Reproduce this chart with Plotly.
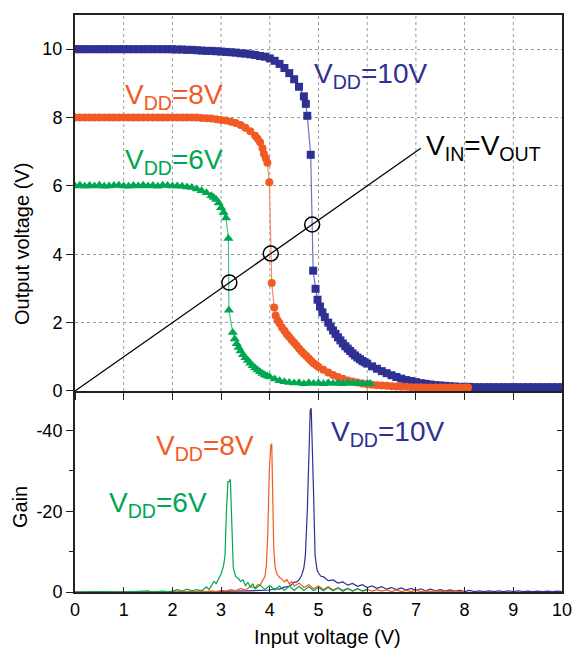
import plotly.graph_objects as go

# ---------------- data: transfer curves ----------------
x_vdd10 = [0.0,0.1,0.2,0.3,0.4,0.5,0.6,0.7,0.8,0.9,1.0,1.1,1.2,1.3,1.4,1.5,1.6,1.7,1.8,1.9,2.0,
           2.1,2.2,2.3,2.4,2.5,2.6,2.7,2.8,2.9,3.0,3.1,3.2,3.3,3.4,3.5,3.6,3.7,3.8,3.9,4.0,
           4.1,4.2,4.3,4.4,4.5,4.6,4.7,4.74,4.77,4.84,4.89,4.94,4.98,5.03,5.08,5.13,5.2,5.25,
           5.3,5.35,5.4,5.45,5.5,5.55,5.6,5.65,5.7,5.75,5.8,5.85,5.9,5.95,6.0,6.1,6.2,6.3,6.4,
           6.5,6.6,6.7,6.8,6.9,7.0,7.1,7.2,7.3,7.4,7.5,7.6,7.7,7.8,7.9,8.0,8.1,8.2,8.3,8.4,8.5,
           8.6,8.7,8.8,8.9,9.0,9.1,9.2,9.3,9.4,9.5,9.6,9.7,9.8,9.9,10.0]
y_vdd10 = [10.0,10.0,10.0,10.0,10.0,10.0,10.0,10.0,10.0,10.0,10.0,10.0,10.0,10.0,10.0,10.0,10.0,10.0,10.0,10.0,10.0,
           9.99,9.99,9.98,9.98,9.97,9.96,9.95,9.95,9.94,9.93,9.92,9.91,9.9,9.88,9.87,9.85,9.83,9.8,9.78,9.73,
           9.66,9.57,9.45,9.3,9.12,8.9,8.62,8.4,8.05,6.91,3.52,2.99,2.67,2.47,2.3,2.16,2.0,1.88,
           1.77,1.67,1.57,1.48,1.39,1.31,1.24,1.17,1.1,1.04,0.98,0.93,0.88,0.84,0.8,0.72,0.65,0.58,0.52,
           0.46,0.41,0.36,0.32,0.29,0.26,0.23,0.21,0.19,0.17,0.16,0.15,0.14,0.13,0.12,0.12,0.12,0.11,0.11,0.11,0.11,
           0.11,0.11,0.11,0.11,0.11,0.11,0.11,0.11,0.11,0.11,0.11,0.11,0.11,0.11,0.11]

x_vdd8 = [0.0,0.1,0.2,0.3,0.4,0.5,0.6,0.7,0.8,0.9,1.0,1.1,1.2,1.3,1.4,1.5,1.6,1.7,1.8,1.9,2.0,
          2.1,2.2,2.3,2.4,2.5,2.6,2.7,2.8,2.9,3.0,3.1,3.2,3.3,3.4,3.5,3.6,3.7,3.75,3.8,3.85,3.88,
          3.92,3.95,3.99,4.04,4.09,4.12,4.16,4.2,4.25,4.3,4.35,4.4,4.45,4.5,4.55,4.6,4.65,4.7,4.75,
          4.8,4.85,4.9,4.95,5.0,5.1,5.2,5.3,5.4,5.5,5.6,5.7,5.8,5.9,6.0,6.1,6.2,6.3,6.4,6.5,6.6,
          6.7,6.8,6.9,7.0,7.1,7.2,7.3,7.4,7.5,7.6,7.7,7.8,7.9,8.0,8.07]
y_vdd8 = [8.0,8.0,8.0,8.0,8.0,8.0,8.0,8.0,8.0,8.0,8.0,8.0,8.0,8.0,8.0,8.0,8.0,8.0,8.0,8.0,8.0,
          8.0,8.0,8.0,8.0,8.0,7.99,7.98,7.97,7.95,7.93,7.91,7.88,7.84,7.78,7.7,7.6,7.47,7.38,7.28,7.1,6.93,
          6.8,6.68,6.11,3.16,2.44,2.21,2.07,1.98,1.86,1.76,1.66,1.58,1.49,1.41,1.33,1.24,1.16,1.09,1.02,
          0.95,0.88,0.81,0.76,0.7,0.62,0.54,0.47,0.41,0.36,0.31,0.28,0.25,0.22,0.2,0.18,0.17,0.16,0.15,0.14,0.13,
          0.12,0.12,0.11,0.11,0.11,0.1,0.1,0.1,0.1,0.1,0.1,0.1,0.1,0.1,0.1]

x_vdd6 = [0.0,0.1,0.2,0.3,0.4,0.5,0.6,0.7,0.8,0.9,1.0,1.1,1.2,1.3,1.4,1.5,1.6,1.7,1.8,1.9,2.0,
          2.1,2.2,2.3,2.4,2.5,2.6,2.7,2.8,2.85,2.9,2.95,3.0,3.05,3.1,3.15,3.16,3.24,3.28,3.32,3.36,
          3.4,3.45,3.5,3.55,3.6,3.65,3.7,3.75,3.8,3.85,3.9,3.95,4.0,4.1,4.2,4.3,4.4,4.5,4.6,4.7,
          4.8,4.9,5.0,5.1,5.2,5.3,5.4,5.5,5.6,5.7,5.8,5.9,6.0,6.06]
y_vdd6 = [6.0,6.02,5.99,6.01,6.0,6.02,5.99,6.0,6.01,6.02,6.0,5.99,6.01,6.0,6.02,6.0,6.01,5.99,6.02,6.01,6.0,
          6.0,5.99,5.97,5.95,5.91,5.86,5.8,5.71,5.66,5.6,5.5,5.36,5.22,5.06,4.46,2.36,1.71,1.52,1.38,1.27,
          1.17,1.06,0.97,0.89,0.81,0.74,0.67,0.61,0.56,0.51,0.47,0.44,0.41,0.35,0.3,0.27,0.25,0.23,0.24,0.21,
          0.24,0.22,0.23,0.21,0.24,0.22,0.23,0.21,0.24,0.22,0.23,0.21,0.22,0.22]

# V_IN = V_OUT line and switching points
x_diag = [0.0, 7.1]
y_diag = [0.0, 7.1]
x_switch = [3.17, 4.02, 4.87]
y_switch = [3.17, 4.02, 4.87]

# ---------------- data: gain curves ----------------
gx_vdd6 = [0.0,0.5,1.0,1.4,1.5,1.6,1.7,1.8,1.9,2.0,2.1,2.2,2.3,2.4,2.5,2.6,2.7,2.75,2.8,2.85,2.9,2.95,
           3.0,3.05,3.08,3.11,3.14,3.17,3.19,3.22,3.25,3.3,3.35,3.4,3.45,3.5,3.55,3.6,3.65,3.7,3.8,3.9,
           4.0,4.1,4.2,4.3,4.4,4.5,4.6,4.7,4.8,4.9,5.0,5.1,5.2,5.3,5.4,5.5,5.6,5.7,5.8,5.9,6.0]
g_vdd6 = [0.0,-0.1,0.0,-0.1,-0.3,0.0,-0.1,-0.2,-0.1,-0.2,-0.6,-0.2,-0.7,-0.3,-0.6,-0.3,-1.3,-0.6,-1.5,-2.6,-2.1,-3.2,
          -4.5,-6.5,-9.0,-20.0,-27.3,-27.4,-27.9,-17.0,-6.0,-3.8,-3.4,-2.6,-3.0,-1.6,-2.4,-1.2,-2.0,-0.8,-1.7,-0.6,
          -1.6,-0.5,-1.5,-0.4,-1.5,-0.4,-1.4,-0.4,-1.3,-0.3,-1.2,-0.3,-1.1,-0.3,-1.0,-0.2,-0.9,-0.2,-0.8,-0.2,-0.5]

gx_vdd8 = [0.0,0.5,1.0,1.5,2.0,2.5,2.6,2.7,2.8,2.9,3.0,3.1,3.2,3.3,3.4,3.5,3.6,3.7,3.75,3.8,3.85,3.9,
           3.93,3.96,3.99,4.02,4.04,4.06,4.08,4.11,4.15,4.2,4.25,4.3,4.35,4.4,4.45,4.5,4.6,4.7,4.8,4.9,
           5.0,5.1,5.2,5.3,5.4,5.5,5.6,5.7,5.8,5.9,6.0,6.1,6.2,6.3,6.4,6.5,6.6,6.7,6.8,6.9,7.0,7.1,
           7.2,7.3,7.4,7.5,7.6,7.7,7.8,7.9,8.0]
g_vdd8 = [0.0,-0.1,0.0,-0.1,-0.1,-0.1,-0.2,-0.1,-0.3,-0.1,-0.4,-0.2,-0.6,-0.3,-0.9,-0.5,-1.4,-1.0,-1.8,-1.7,-2.6,-3.8,
          -6.5,-15.0,-30.0,-36.3,-36.7,-26.0,-11.0,-6.0,-4.4,-3.6,-3.2,-2.5,-3.1,-2.0,-2.6,-1.5,-2.2,-1.1,-1.8,-0.8,
          -1.5,-0.6,-1.3,-0.5,-1.1,-0.4,-0.9,-0.3,-0.8,-0.3,-0.7,-0.2,-0.6,-0.2,-0.5,-0.1,-0.5,-0.1,-0.4,-0.1,-0.4,-0.1,
          -0.3,-0.1,-0.3,-0.1,-0.2,-0.1,-0.2,-0.1,-0.1]

gx_vdd10 = [0.0,0.5,1.0,1.5,2.0,2.5,3.0,3.2,3.4,3.6,3.8,4.0,4.1,4.2,4.3,4.4,4.5,4.55,4.6,4.65,4.7,4.73,
            4.77,4.8,4.83,4.85,4.87,4.9,4.93,4.97,5.0,5.05,5.1,5.2,5.3,5.4,5.5,5.6,5.7,5.8,5.9,6.0,6.1,
            6.2,6.3,6.4,6.5,6.6,6.7,6.8,6.9,7.0,7.1,7.2,7.3,7.4,7.5,7.6,7.7,7.8,7.9,8.0,8.1,8.2,8.3,
            8.4,8.5,8.6,8.7,8.8,8.9,9.0,9.1,9.2,9.3,9.4,9.5,9.6,9.7,9.8,9.9,10.0]
g_vdd10 = [0.0,0.0,-0.1,0.0,-0.1,-0.1,-0.1,-0.2,-0.2,-0.3,-0.4,-0.5,-0.8,-0.7,-1.2,-1.4,-2.4,-2.5,-3.0,-4.0,-6.0,-9.0,
           -20.0,-32.0,-45.0,-45.5,-38.0,-24.0,-9.0,-5.5,-4.7,-3.9,-3.8,-2.8,-3.0,-2.2,-2.5,-1.7,-2.1,-1.4,-1.8,-1.1,-1.5,
           -0.9,-1.3,-0.7,-1.1,-0.6,-1.0,-0.5,-0.9,-0.4,-0.8,-0.3,-0.7,-0.3,-0.6,-0.2,-0.5,-0.2,-0.4,-0.1,-0.4,-0.1,-0.3,
           -0.1,-0.3,-0.1,-0.3,-0.1,-0.3,-0.1,-0.3,-0.1,-0.2,-0.1,-0.2,-0.1,-0.2,-0.1,-0.2,-0.1]

x_ticks = [0, 1, 2, 3, 4, 5, 6, 7, 8, 9, 10]
x_ticktext = ["0", "1", "2", "3", "4", "5", "6", "7", "8", "9", "10"]
vout_ticks = [0, 2, 4, 6, 8, 10]
gain_ticks = [0, -20, -40]
gain_ticktext = ["0", "-20", "-40"]
gain_minor = [-30, -10]
gain_right_ticks = [-40, -30, -20, -10]

BLUE = "#2e3192"
ORANGE = "#f15a24"
GREEN = "#00a651"
FONT = "Liberation Sans, Arial, Helvetica, sans-serif"

fig = go.Figure()

# transfer curves (top panel)
fig.add_trace(go.Scatter(x=x_vdd10, y=y_vdd10, mode="lines+markers",
                         line=dict(color="#6e72b8", width=1.2),
                         marker=dict(symbol="square", size=8, color=BLUE, line=dict(width=0)),
                         xaxis="x", yaxis="y"))
fig.add_trace(go.Scatter(x=x_vdd8, y=y_vdd8, mode="lines+markers",
                         line=dict(color="#f5896a", width=1.2),
                         marker=dict(symbol="circle", size=8, color=ORANGE, line=dict(width=0)),
                         xaxis="x", yaxis="y"))
fig.add_trace(go.Scatter(x=x_vdd6, y=y_vdd6, mode="lines+markers",
                         line=dict(color="#4cc084", width=1.2),
                         marker=dict(symbol="triangle-up", size=9, color=GREEN, line=dict(width=0)),
                         xaxis="x", yaxis="y"))
fig.add_trace(go.Scatter(x=x_diag, y=y_diag, mode="lines",
                         line=dict(color="black", width=1.3), xaxis="x", yaxis="y"))
fig.add_trace(go.Scatter(x=x_switch, y=y_switch, mode="markers",
                         marker=dict(symbol="circle-open", size=15, color="black", line=dict(width=1.5)),
                         xaxis="x", yaxis="y"))

# gain curves (bottom panel)
fig.add_trace(go.Scatter(x=gx_vdd10, y=g_vdd10, mode="lines",
                         line=dict(color=BLUE, width=1.2), xaxis="x2", yaxis="y2"))
fig.add_trace(go.Scatter(x=gx_vdd8, y=g_vdd8, mode="lines",
                         line=dict(color=ORANGE, width=1.2), xaxis="x2", yaxis="y2"))
fig.add_trace(go.Scatter(x=gx_vdd6, y=g_vdd6, mode="lines",
                         line=dict(color=GREEN, width=1.2), xaxis="x2", yaxis="y2"))
fig.add_trace(go.Scatter(x=[], y=[], xaxis="x2", yaxis="y3", hoverinfo="skip"))

split = 0.3484
tickfont = dict(family=FONT, size=18, color="black")

fig.update_layout(
    template="none",
    width=578, height=649,
    margin=dict(l=75, r=16, t=15, b=57),
    paper_bgcolor="white", plot_bgcolor="white",
    showlegend=False,
    font=dict(family=FONT, color="black"),
    xaxis=dict(domain=[0, 1], anchor="y", range=[0, 10], tickvals=x_ticks, showticklabels=False,
               ticks="outside", ticklen=7, tickcolor="#222",
               showgrid=False, zeroline=False, mirror=True,
               showline=True, linecolor="#222", linewidth=2),
    yaxis=dict(domain=[split, 1], anchor="x", range=[0, 11], tickvals=vout_ticks,
               ticks="outside", ticklen=7, tickcolor="#222", tickfont=tickfont,
               showgrid=True, gridcolor="#9a9a9a", griddash="dot",
               zeroline=False, mirror=True, showline=True, linecolor="#222", linewidth=2),
    xaxis2=dict(domain=[0, 1], anchor="y2", range=[0, 10], tickvals=x_ticks, ticktext=x_ticktext,
                ticks="inside", ticklen=5, tickcolor="#222", tickfont=tickfont,
                showgrid=False, zeroline=False, showline=True, linecolor="#222", linewidth=2),
    yaxis2=dict(domain=[0, split], anchor="x2", range=[0, -49.8], tickvals=gain_ticks,
                ticktext=gain_ticktext,
                ticks="outside", ticklen=7, tickcolor="#222", tickfont=tickfont,
                minor=dict(tickvals=gain_minor, ticks="outside", ticklen=4, tickcolor="#222",
                           showgrid=False),
                showgrid=False, zeroline=False,
                showline=True, linecolor="#222", linewidth=2),
    yaxis3=dict(overlaying="y2", side="right", anchor="x2", range=[0, -49.8],
                tickvals=gain_right_ticks, ticks="inside", ticklen=5, tickcolor="#222",
                showticklabels=False, showgrid=False, zeroline=False,
                showline=True, linecolor="#222", linewidth=1.5),
)

# vertical dotted grid of the upper panel only, one line per x tick value
for xv in x_ticks[1:-1]:
    fig.add_shape(type="line", xref="x", yref="y domain", x0=xv, x1=xv, y0=0, y1=1,
                  line=dict(color="#9a9a9a", width=1, dash="dot"), layer="below")

big = 28
annots = [
    dict(text="V<sub>DD</sub>=10V", x=4.86, y=9.24, xref="x", yref="y", color=BLUE),
    dict(text="V<sub>DD</sub>=8V", x=0.99, y=8.62, xref="x", yref="y", color=ORANGE),
    dict(text="V<sub>DD</sub>=6V", x=0.99, y=6.72, xref="x", yref="y", color=GREEN),
    dict(text="V<sub>IN</sub>=V<sub>OUT</sub>", x=7.17, y=7.13, xref="x", yref="y", color="black"),
    dict(text="V<sub>DD</sub>=10V", x=5.22, y=-39.2, xref="x2", yref="y2", color=BLUE),
    dict(text="V<sub>DD</sub>=8V", x=1.62, y=-35.7, xref="x2", yref="y2", color=ORANGE),
    dict(text="V<sub>DD</sub>=6V", x=0.66, y=-21.6, xref="x2", yref="y2", color=GREEN),
]
for a in annots:
    fig.add_annotation(text=a["text"], x=a["x"], y=a["y"], xref=a["xref"], yref=a["yref"],
                       xanchor="left", yanchor="middle", showarrow=False,
                       font=dict(family=FONT, size=big, color=a["color"]))

# axis titles, placed by pixel position converted to paper coordinates
W, H = 578, 649
l, r, t, b = 75, 16, 15, 57
pw, ph = W - l - r, H - t - b
titles = [
    ("Output voltage (V)", 22, 244, -90),
    ("Input voltage (V)", 327, 637, 0),
    ("Gain", 20, 507, -90),
]
for txt, px, py, ang in titles:
    fig.add_annotation(text=txt, x=(px - l) / pw, y=(H - b - py) / ph, xref="paper", yref="paper",
                       xanchor="center", yanchor="middle", showarrow=False, textangle=ang,
                       font=dict(family=FONT, size=20, color="black"))

fig.write_html("out.html")
